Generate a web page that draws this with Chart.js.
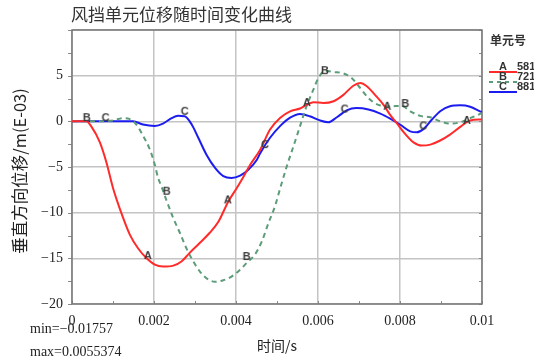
<!DOCTYPE html>
<html><head><meta charset="utf-8">
<script src="https://cdn.jsdelivr.net/npm/chart.js@4.4.1/dist/chart.umd.min.js"></script>
<style>html,body{margin:0;padding:0;background:#fff;}#wrap{width:534px;height:362px;position:relative;}</style>
</head><body><div id="wrap"><canvas id="c" width="534" height="362"></canvas></div>
<script>
// ---- data (time in ms, displacement in E-03 m) ----
const titleText = '风挡单元位移随时间变化曲线';
const xAxisTitle = '时间/s';
const yAxisTitle = '垂直方向位移/m(E-03)';
const seriesNames = ['A_581', 'B_721', 'C_881'];
const legendTitle = '单元号';
const minMaxText = ['min=\u22120.01757', 'max=0.0055374'];

const xTickValues = [0, 0.002, 0.004, 0.006, 0.008, 0.01];
const xTickLabels = ['0', '0.002', '0.004', '0.006', '0.008', '0.01'];
const yTickValues = [-20, -15, -10, -5, 0, 5, 10];
const yTickLabels = ['\u221220', '\u221215', '\u221210', '\u22125', '0', '5', ''];

const timeA = [0, 0.35, 0.47, 0.68, 0.84, 1.0, 1.2, 1.41, 1.61, 1.82, 2.02, 2.22, 2.47, 2.67, 2.87, 3.12, 3.36, 3.57, 3.81, 4.02, 4.14, 4.34, 4.59, 4.83, 5.08, 5.32, 5.56, 5.72, 5.89, 6.13, 6.38, 6.62, 6.86, 7.03, 7.19, 7.39, 7.6, 7.76, 7.92, 8.12, 8.33, 8.53, 8.74, 8.98, 9.22, 9.47, 9.71, 10];
const dispA = [0, 0, -0.55, -2.3, -4.5, -7.3, -10.0, -12.4, -13.9, -15.0, -15.7, -15.9, -15.8, -15.35, -14.4, -13.3, -12.2, -11.0, -8.8, -7.3, -6.4, -4.8, -3.1, -0.9, 0.4, 1.1, 1.4, 1.8, 2.1, 2.0, 2.2, 2.9, 3.9, 4.2, 3.85, 2.9, 1.8, 0.7, -0.2, -1.35, -2.3, -2.65, -2.55, -2.1, -1.45, -0.6, 0.1, 0.2];

const timeB = [0, 0.5, 1.0, 1.25, 1.41, 1.57, 1.73, 1.9, 2.02, 2.1, 2.18, 2.3, 2.47, 2.63, 2.79, 2.96, 3.12, 3.32, 3.49, 3.69, 3.89, 4.1, 4.26, 4.46, 4.63, 4.79, 4.95, 5.08, 5.24, 5.4, 5.56, 5.72, 5.89, 6.01, 6.17, 6.38, 6.62, 6.82, 7.03, 7.23, 7.47, 7.76, 8.04, 8.25, 8.49, 8.74, 8.98, 9.22, 9.47, 9.71, 9.95, 10];
const dispB = [0, 0, 0.1, 0.35, 0.25, -0.35, -1.55, -3.1, -4.75, -6.2, -7.1, -8.6, -10.6, -12.2, -13.9, -15.35, -16.45, -17.3, -17.57, -17.4, -17.0, -16.25, -15.5, -14.6, -13.15, -11.15, -9.3, -7.3, -4.9, -2.75, -0.55, 1.65, 3.5, 4.75, 5.54, 5.4, 5.25, 4.75, 3.65, 2.55, 1.8, 1.65, 1.7, 1.1, 0.6, 0.45, 0, -0.25, -0.1, 0.35, 0.8, 0.9];

const timeC = [0, 0.5, 1.0, 1.49, 1.73, 2.02, 2.22, 2.43, 2.59, 2.75, 2.92, 3.08, 3.28, 3.49, 3.69, 3.89, 4.1, 4.3, 4.51, 4.59, 4.83, 5.08, 5.32, 5.56, 5.8, 6.05, 6.25, 6.46, 6.7, 6.94, 7.23, 7.52, 7.76, 8.0, 8.25, 8.41, 8.57, 8.78, 8.98, 9.22, 9.47, 9.71, 9.95, 10];
const dispC = [0, 0, 0, 0, -0.35, -0.5, -0.25, 0.35, 0.6, 0.55, -0.35, -1.8, -3.65, -5.1, -6.0, -6.2, -5.95, -5.3, -4.2, -3.5, -1.8, -0.5, 0.4, 0.8, 0.55, 0.1, -0.1, 0.45, 1.2, 1.45, 1.3, 0.85, 0.3, -0.35, -1.1, -1.2, -0.85, 0.2, 1.1, 1.65, 1.75, 1.6, 1.1, 1.0];

// curve identifier letters placed along each curve
const markTimeA = [1.85, 3.80, 5.73, 7.69, 9.63];
const markDispA = [-14.7, -8.6, 2.05, 1.65, 0.1];
const markTimeB = [0.36, 2.31, 4.26, 6.17, 8.13];
const markDispB = [0.4, -7.65, -14.8, 5.55, 1.95];
const markTimeC = [0.82, 2.75, 4.71, 6.65, 8.57];
const markDispC = [0.4, 1.1, -2.55, 1.35, -0.5];

const colors = ['#ff2b2b', '#5c9c78', '#1c1cf0'];

// ---- build ----
const toPts = (t, v) => t.map((x, i) => ({x: x / 1000, y: v[i]}));
function letterCanvas(ch) {
  const c = document.createElement('canvas');
  c.width = 12; c.height = 13;
  const g = c.getContext('2d');
  g.font = 'bold 11px "Liberation Sans", Arial, sans-serif';
  g.fillStyle = '#3a3a3a';
  g.textAlign = 'center'; g.textBaseline = 'middle';
  g.fillText(ch, 6, 7);
  return c;
}
const lineDs = (i, t, v, dash) => ({
  label: seriesNames[i], data: toPts(t, v), borderColor: colors[i], backgroundColor: colors[i],
  borderWidth: 2, borderDash: dash, pointRadius: 0, cubicInterpolationMode: 'monotone', fill: false, order: 2
});
const markDs = (i, t, v, ch) => ({
  label: 'mark' + ch, type: 'scatter', data: toPts(t, v), pointStyle: letterCanvas(ch),
  pointRadius: 6, showLine: false, order: 1
});

const overlay = {
  id: 'overlay',
  beforeDatasetsDraw(chart) {
    const {ctx, chartArea: a, scales: {x, y}} = chart;
    ctx.save();
    ctx.strokeStyle = '#8a8a8a'; ctx.lineWidth = 1;
    ctx.beginPath();
    for (let k = 0; k <= 10; k++) {
      const px = Math.round(x.getPixelForValue(k / 1000)) + 0.5;
      ctx.moveTo(px, a.bottom); ctx.lineTo(px, a.bottom - 3);
    }
    for (let v = -20; v <= 10; v += 2.5) {
      const py = Math.round(y.getPixelForValue(v)) + 0.5;
      ctx.moveTo(a.left - 4, py); ctx.lineTo(a.left, py);
      ctx.moveTo(a.right, py); ctx.lineTo(a.right - 3, py);
    }
    ctx.stroke();
    ctx.strokeStyle = '#777'; ctx.lineWidth = 1.5;
    ctx.strokeRect(a.left, a.top, a.right - a.left, a.bottom - a.top);
    ctx.restore();
  },
  afterDraw(chart) {
    const {ctx} = chart;
    ctx.save();
    ctx.fillStyle = '#333';
    ctx.font = '17px "Noto Sans CJK SC", sans-serif';
    ctx.textBaseline = 'middle'; ctx.textAlign = 'left';
    ctx.fillText(titleText, 71, 15);
    ctx.fillStyle = '#222';
    ctx.textAlign = 'center';
    ctx.font = '14px "Noto Sans CJK SC", "Liberation Serif", serif';
    ctx.fillText(xAxisTitle, 277, 346);
    ctx.save();
    ctx.font = '16.5px "Noto Sans CJK SC", "Liberation Serif", serif';
    ctx.translate(20, 171); ctx.rotate(-Math.PI / 2);
    ctx.fillText(yAxisTitle, 0, 0);
    ctx.restore();
    ctx.font = '14px "Liberation Serif", serif';
    ctx.textAlign = 'left';
    ctx.fillText(minMaxText[0], 30, 329);
    ctx.fillText(minMaxText[1], 30, 352);
    ctx.font = 'bold 12px "Noto Sans CJK SC", sans-serif';
    ctx.fillStyle = '#333';
    ctx.fillText(legendTitle, 490, 40);
    const ly = [67, 77, 87];
    const lets = ['A', 'B', 'C'];
    const nums = ['581', '721', '881'];
    ctx.font = 'bold 11px "Liberation Sans", Arial, sans-serif';
    for (let i = 0; i < 3; i++) {
      ctx.strokeStyle = colors[i]; ctx.lineWidth = 2;
      ctx.setLineDash(i === 1 ? [4, 4] : []);
      ctx.beginPath(); ctx.moveTo(489, ly[i] + 5); ctx.lineTo(517, ly[i] + 5); ctx.stroke();
      ctx.setLineDash([]);
      ctx.fillStyle = '#333';
      ctx.fillText(lets[i], 499, ly[i]);
      ctx.fillText(nums[i], 517, ly[i]);
    }
    ctx.restore();
  }
};

new Chart(document.getElementById('c'), {
  type: 'line',
  data: {datasets: [
    lineDs(0, timeA, dispA, []),
    lineDs(1, timeB, dispB, [5, 4]),
    lineDs(2, timeC, dispC, []),
    markDs(0, markTimeA, markDispA, 'A'),
    markDs(1, markTimeB, markDispB, 'B'),
    markDs(2, markTimeC, markDispC, 'C')
  ]},
  options: {
    responsive: false, animation: false, devicePixelRatio: 1,
    layout: {padding: {left: 0, right: 52, top: 30, bottom: 0}},
    plugins: {legend: {display: false}, title: {display: false}, tooltip: {enabled: false}},
    scales: {
      x: {
        type: 'linear', min: 0, max: 0.01,
        afterBuildTicks: s => { s.ticks = xTickValues.map(v => ({value: v})); },
        afterFit: s => { s.height = 58; },
        grid: {color: '#c4c4c4', lineWidth: 1.5, drawTicks: false},
        border: {display: false},
        ticks: {
          padding: 9, color: '#222', maxRotation: 0, autoSkip: false,
          font: {family: '"Liberation Serif", serif', size: 14},
          callback: (v, i) => xTickLabels[i]
        }
      },
      y: {
        type: 'linear', min: -20, max: 10,
        afterBuildTicks: s => { s.ticks = yTickValues.map(v => ({value: v})); },
        afterFit: s => { s.width = 72; },
        grid: {color: '#c4c4c4', lineWidth: 1.5, drawTicks: false},
        border: {display: false},
        ticks: {
          padding: 9, color: '#222', autoSkip: false,
          font: {family: '"Liberation Serif", serif', size: 14},
          callback: (v, i) => yTickLabels[i]
        }
      }
    }
  },
  plugins: [overlay]
});
</script></body></html>
